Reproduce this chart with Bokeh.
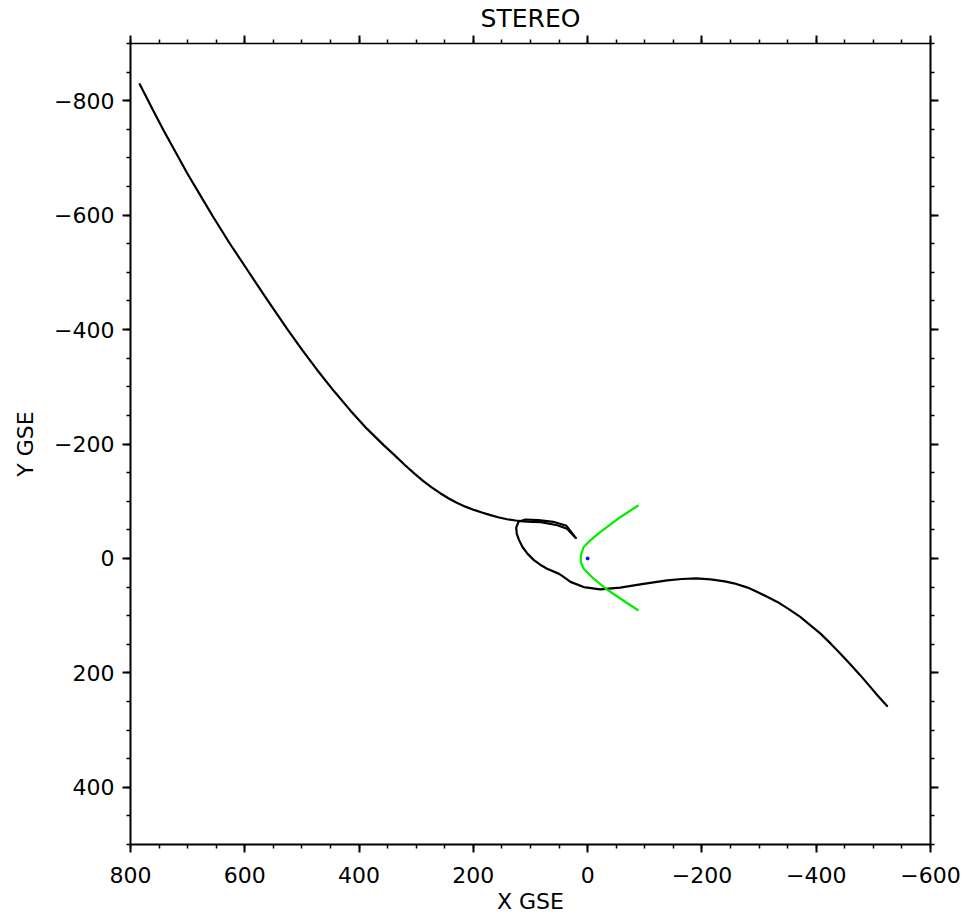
from bokeh.plotting import figure
from bokeh.models import Range1d, LinearAxis, FixedTicker
from bokeh.embed import file_html
from bokeh.resources import INLINE

# ---- data (units: Earth radii GSE) ----
title_text = "STEREO"
x_label = "X GSE"
y_label = "Y GSE"

x_ticks = [800, 600, 400, 200, 0, -200, -400, -600]
y_ticks = [-800, -600, -400, -200, 0, 200, 400]
x_minor = list(range(-600, 801, 50))
y_minor = list(range(-900, 501, 50))

# inbound leg (upper-left, coming in towards Earth)
traj_in_x = [784, 763, 742, 721, 700, 678, 656, 626, 596, 560, 525, 499, 473, 444, 415, 386, 357, 338, 319,
             303, 288, 273, 258, 243, 229, 214, 199, 185, 170, 155, 141, 126, 112, 97, 82, 53, 36, 21]
traj_in_y = [-829, -788, -748, -710, -672, -635, -598, -550, -505, -451, -400, -363.6, -329, -292.5, -258.3,
             -226.4, -198, -180.5, -162.5, -148.2, -135.5, -124.3, -114, -104.7, -97.3, -90.5, -84.8, -80.2,
             -75.7, -71.6, -68.5, -66.3, -64.9, -64, -63.5, -58, -52, -36]

# loop and outbound leg (towards lower right)
traj_out_x = [21, 37, 60, 86, 109, 121, 125, 124, 120, 114, 105, 94, 83, 71, 50, 44, 30, 7, -22, -57, -92,
              -139, -165, -190, -215, -240, -256, -280, -297, -315, -332, -352, -372, -390, -407, -425, -442,
              -460, -477, -492, -507, -524]
traj_out_y = [-36, -57, -64, -67, -68, -64, -54, -43, -32, -20, -8, 3, 11, 18, 27, 31, 41, 50, 54, 51, 45.5,
              38.5, 36, 35, 36.5, 40, 43.5, 51, 58.7, 67.5, 76, 88.5, 102, 117, 131, 148.5, 166,
              185.5, 204, 221.5, 239, 258]

# green boundary curve
bound_x = [-89, -57, -22, -5, 7, 12, 12, 7, -10, -32, -57, -89]
bound_y = [-93, -72, -46, -32, -20, -5, 6, 18, 35, 53, 70, 91]

# Earth
earth_x = [0]
earth_y = [0]

FONT = "DejaVu Sans"

p = figure(width=979, height=916,
           x_range=Range1d(800, -600), y_range=Range1d(500, -900),
           output_backend="svg", toolbar_location=None,
           min_border_left=130, min_border_right=49,
           min_border_top=43, min_border_bottom=72)
p.xgrid.visible = False
p.ygrid.visible = False
p.outline_line_color = None
p.background_fill_color = "white"
p.border_fill_color = "white"

def lab(v):
    return str(v).replace("-", "\u2212")

bottom = p.below[0]
left = p.left[0]
top = LinearAxis()
right = LinearAxis()
p.add_layout(top, "above")
p.add_layout(right, "right")

for ax, ticks, minor in [(bottom, x_ticks, x_minor), (top, x_ticks, x_minor),
                         (left, y_ticks, y_minor), (right, y_ticks, y_minor)]:
    ax.ticker = FixedTicker(ticks=ticks, minor_ticks=minor)
    ax.major_tick_in = 0
    ax.major_tick_out = 8
    ax.minor_tick_in = 0
    ax.minor_tick_out = 4
    ax.major_tick_line_width = 2
    ax.minor_tick_line_width = 1.5
    ax.axis_line_width = 2
    ax.axis_line_color = "black"
    ax.major_tick_line_color = "black"
    ax.minor_tick_line_color = "black"
    ax.major_label_text_font = FONT
    ax.major_label_text_font_size = "22px"
    ax.major_label_text_color = "black"
    ax.axis_label_text_font = FONT
    ax.axis_label_text_font_size = "22px"
    ax.axis_label_text_font_style = "normal"
    ax.axis_label_text_color = "black"
    ax.major_label_overrides = {float(t): lab(t) for t in ticks}

top.axis_line_width = 1.5
for ax, ticks in ((top, x_ticks), (right, y_ticks)):
    ax.major_label_overrides = {float(t): "" for t in ticks}
    ax.major_label_text_font_size = "1px"
    ax.major_label_standoff = 0

top.axis_label = title_text
top.axis_label_text_font_size = "25px"
top.axis_label_standoff = 3

bottom.axis_label = x_label
bottom.major_label_standoff = 14
bottom.axis_label_standoff = 3

left.axis_label = y_label
left.major_label_standoff = 8
left.axis_label_standoff = 13

p.line(traj_in_x, traj_in_y, line_color="black", line_width=2.2, line_join="round", line_cap="round")
p.line(traj_out_x, traj_out_y, line_color="black", line_width=2.2, line_join="round", line_cap="round")
p.line(bound_x, bound_y, line_color="#00ee00", line_width=2.2, line_join="round")
p.scatter(earth_x, earth_y, size=3, fill_color="#0000ff", line_color="#0000ff")

open("out.html", "w").write(file_html(p, INLINE))
